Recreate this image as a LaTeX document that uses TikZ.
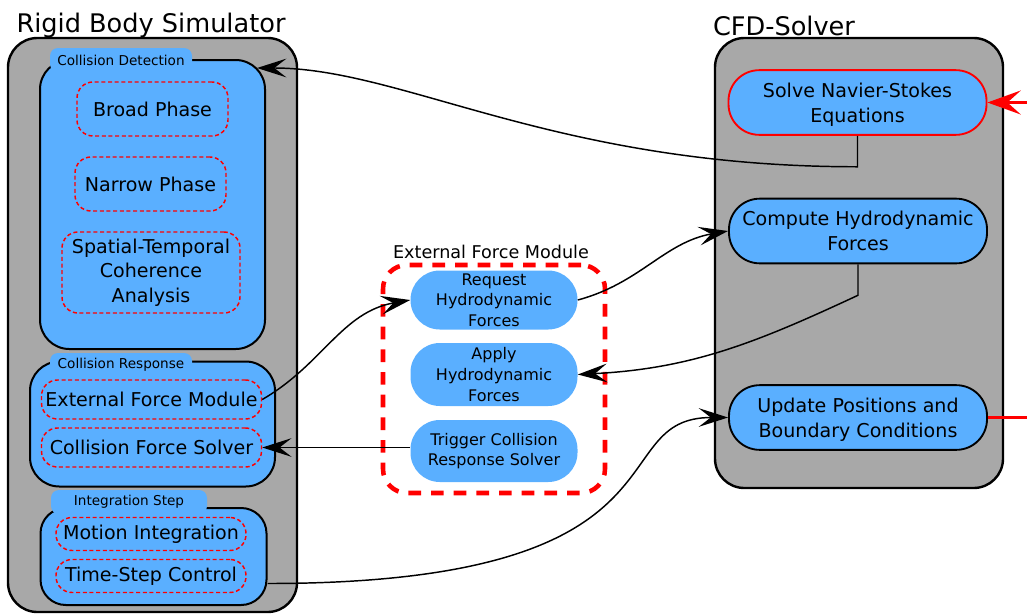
\documentclass[tikz,border=0pt]{standalone}
\usepackage{fontspec}
\setmainfont{DejaVu Sans}
\usetikzlibrary{arrows.meta,calc}

\definecolor{simgray}{HTML}{A8A8A8}
\definecolor{simblue}{HTML}{5AAFFF}

\tikzset{
  block/.style={draw=black,line width=1.8pt,fill=simgray,rounded corners=22pt,inner sep=0pt},
  group/.style={draw=black,line width=1.5pt,fill=simblue,rounded corners=22pt,inner sep=0pt},
  grouptab/.style={fill=simblue,rounded corners=6pt,minimum width=106.5pt,minimum height=18pt,
    inner sep=0pt,font=\fontsize{10.2}{12}\selectfont},
  subtask/.style={draw=red,line width=1.1pt,dash pattern=on 3pt off 2pt,rounded corners=12pt,
    inner sep=1pt,align=center,font=\fontsize{14.3}{18.4}\selectfont},
  task/.style={fill=simblue,rounded corners=22pt,minimum width=125.25pt,inner sep=1pt,
    align=center,font=\fontsize{12}{15.4}\selectfont},
  cfdtask/.style={draw=black,line width=1.4pt,fill=simblue,rounded corners=23pt,
    minimum width=193.5pt,minimum height=48.5pt,inner sep=1pt,align=center,text depth=0pt,
    font=\fontsize{14.3}{18.75}\selectfont},
  title/.style={anchor=base,inner sep=0pt,font=\fontsize{19.2}{23}\selectfont},
  link/.style={-{Stealth[length=22pt,width=14pt,inset=9pt]},line width=1.1pt},
  redlink/.style={red,line width=1.9pt},
}

\begin{document}
\begin{tikzpicture}[x=0.75pt,y=-0.75pt]
\useasboundingbox (0,0) rectangle (1027,614);

% rigid body side
\node[title] (rbstitle) at (151,32) {Rigid Body Simulator};
\node[block,minimum width=216.75pt,minimum height=430.5pt] (rbs) at (152.5,325) {};

\node[group,minimum width=168.75pt,minimum height=216.75pt] (cd) at (152.5,204.5) {};
\node[grouptab] (cdtab) at (121,60) {Collision Detection};
\node[subtask,minimum width=113.25pt,minimum height=40.5pt] (broad) at (152.5,109) {Broad Phase};
\node[subtask,minimum width=113.25pt,minimum height=40.5pt] (narrow) at (150.5,184) {Narrow Phase};
\node[subtask,minimum width=133.5pt,minimum height=60.75pt] (coher) at (151,272.5)
  {Spatial-Temporal\\Coherence\\Analysis};

\node[group,minimum width=183.75pt,minimum height=93.75pt] (cr) at (152.5,424) {};
\node[grouptab] (crtab) at (121,365) {Collision Response};
\node[subtask,minimum width=165pt,minimum height=29.25pt] (efm) at (151.5,399.5) {External Force Module};
\node[subtask,minimum width=165pt,minimum height=29.25pt] (cfs) at (151.5,447.5) {Collision Force Solver};

\node[group,rounded corners=19pt,minimum width=169.5pt,minimum height=72.75pt] (is) at (153.5,556.5) {};
\node[grouptab,minimum width=117pt] (istab) at (129,502) {Integration Step};
\node[subtask,minimum width=142.5pt,minimum height=24.75pt] (motion) at (151,534) {Motion Integration};
\node[subtask,minimum width=142.5pt,minimum height=24.75pt] (tstep) at (151,576) {Time-Step Control};

% external force module
\node[anchor=base,inner sep=0pt,font=\fontsize{13.2}{16}\selectfont] (extlabel) at (491,258)
  {External Force Module};
\node[draw=red,line width=3.4pt,dash pattern=on 9.5pt off 7.5pt,rounded corners=18pt,
  minimum width=166.5pt,minimum height=171pt] (extbox) at (494,379) {};
\node[task,minimum height=44.25pt] (req) at (494,300) {Request\\Hydrodynamic\\Forces};
\node[task,minimum height=47.25pt] (apply) at (494,374.5) {Apply\\Hydrodynamic\\Forces};
\node[task,minimum height=46.5pt] (trig) at (494,451) {Trigger Collision\\Response Solver};

% cfd side
\node[title] (cfdtitle) at (784,35) {CFD-Solver};
\node[block,minimum width=216pt,minimum height=337.5pt] (cfd) at (859,263) {};
\node[cfdtask,draw=red] (ns) at (857.5,102.5) {Solve Navier-Stokes\\Equations};
\node[cfdtask] (hydro) at (858,231) {Compute Hydrodynamic\\Forces};
\node[cfdtask] (update) at (858,417.5) {Update Positions and\\Boundary Conditions};

\coordinate (nsin) at (1040,102.5);
\coordinate (updout) at (1040,417.5);
\coordinate (cdhook) at ($(cd.north east)+(-9,9)$);

% connectors
\draw[link] (ns.south) -- ++(0,31) .. controls +(-304,0) and +(147,0) .. (cdhook);
\draw[link] (efm.east) to[out=30,in=190] (req.west);
\draw[link] (req.east) to[out=15,in=190] (hydro.west);
\draw[link] (hydro.south) -- ++(0,31) to[out=205,in=3] (apply.east);
\draw[link] (trig.west |- cfs.east) -- (cfs.east);
\draw[link] ($(is.east)+(0,27)$) .. controls +(435,0) and +(-129,0) .. (update.west);

\draw[redlink,-{Stealth[length=25pt,width=18pt,inset=10pt]}] (nsin) -- (ns.east);
\draw[redlink] (update.east) -- (updout);

\end{tikzpicture}
\end{document}
